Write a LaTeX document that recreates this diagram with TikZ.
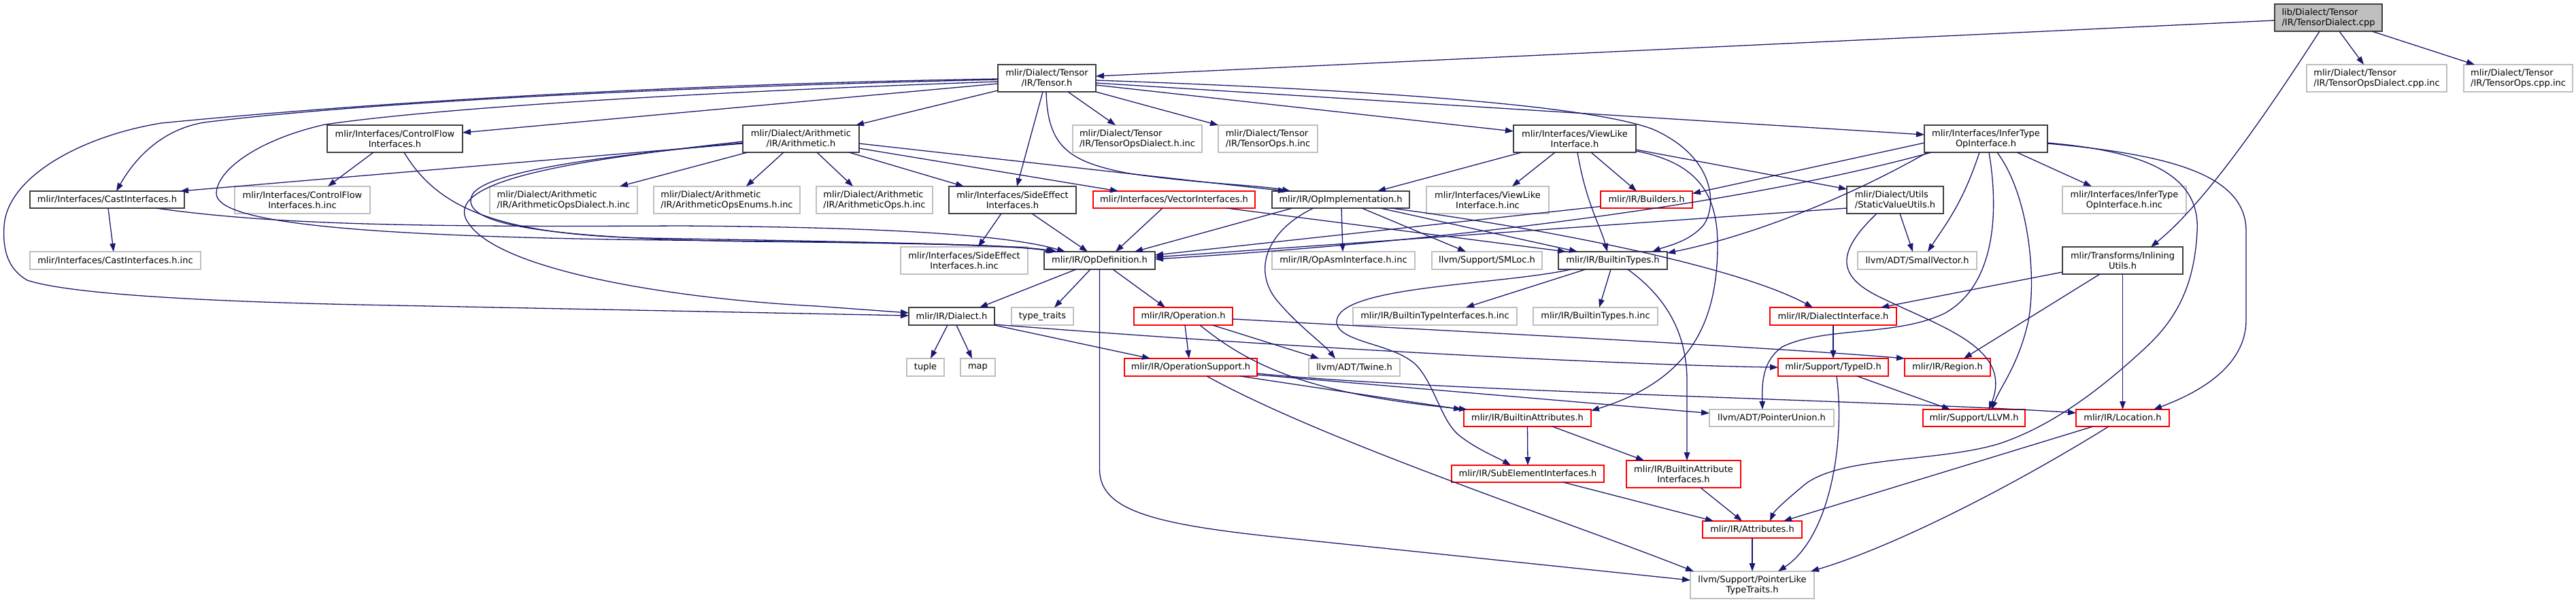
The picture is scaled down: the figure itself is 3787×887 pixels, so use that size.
\documentclass[tikz,border=0pt]{standalone}
\usepackage{fontspec}
\setmainfont{DejaVu Sans}
\usetikzlibrary{arrows.meta}
\definecolor{edgec}{HTML}{191970}
\definecolor{gborder}{HTML}{BFBFBF}
\definecolor{rootfill}{HTML}{BFBFBF}
\definecolor{nborder}{HTML}{404040}
\definecolor{rborder}{HTML}{FF0000}
\newcommand\nd[7]{%
  \node[#6,minimum width={(#4)-(#2)},minimum height={(#5)-(#3)}] (#1) at ({((#2)+(#4))/2},{((#3)+(#5))/2}) {#7};}
\begin{document}
\begin{tikzpicture}[x=1pt,y=-1pt,
  base/.style={draw,line width=1.6pt,inner sep=0pt,outer sep=0pt,align=center,fill=white,text=black,font=\fontsize{13}{15}\selectfont},
  blk/.style={base,draw=nborder},
  gry/.style={base,draw=gborder},
  redn/.style={base,draw=rborder},
  rootn/.style={base,draw=nborder,fill=rootfill},
  edg/.style={draw=edgec,line width=1.3pt,-{Triangle[length=12pt,width=8.5pt]}}]
\path[use as bounding box] (0,0) rectangle (3787,887);
% ---------- nodes ----------
\nd{root}{3344}{6}{3502}{46}{rootn,align=left}{lib/Dialect/Tensor\\/IR/TensorDialect.cpp}
\nd{tdcppinc}{3391}{95}{3597}{135}{gry,align=left}{mlir/Dialect/Tensor\\/IR/TensorOpsDialect.cpp.inc}
\nd{tocppinc}{3622}{95}{3782}{135}{gry,align=left}{mlir/Dialect/Tensor\\/IR/TensorOps.cpp.inc}
\nd{tensor}{1467}{95}{1611}{135}{blk}{mlir/Dialect/Tensor\\/IR/Tensor.h}
\nd{cf}{481}{184}{680}{224}{blk}{mlir/Interfaces/ControlFlow\\Interfaces.h}
\nd{arith}{1092}{184}{1263}{224}{blk}{mlir/Dialect/Arithmetic\\/IR/Arithmetic.h}
\nd{todinc}{1577}{184}{1767}{224}{gry,align=left}{mlir/Dialect/Tensor\\/IR/TensorOpsDialect.h.inc}
\nd{tohinc}{1791}{184}{1937}{224}{gry,align=left}{mlir/Dialect/Tensor\\/IR/TensorOps.h.inc}
\nd{viewlike}{2225}{184}{2405}{224}{blk}{mlir/Interfaces/ViewLike\\Interface.h}
\nd{infer}{2829}{184}{3010}{224}{blk}{mlir/Interfaces/InferType\\OpInterface.h}
\nd{cast}{44}{281}{271}{306}{blk}{mlir/Interfaces/CastInterfaces.h}
\nd{cfinc}{345}{274}{544}{314}{gry}{mlir/Interfaces/ControlFlow\\Interfaces.h.inc}
\nd{aodinc}{720}{274}{937}{314}{gry,align=left}{mlir/Dialect/Arithmetic\\/IR/ArithmeticOpsDialect.h.inc}
\nd{aoeinc}{961}{274}{1176}{314}{gry,align=left}{mlir/Dialect/Arithmetic\\/IR/ArithmeticOpsEnums.h.inc}
\nd{aoinc}{1200}{274}{1371}{314}{gry,align=left}{mlir/Dialect/Arithmetic\\/IR/ArithmeticOps.h.inc}
\nd{side}{1395}{274}{1582}{314}{blk}{mlir/Interfaces/SideEffect\\Interfaces.h}
\nd{vector}{1607}{281}{1845}{306}{redn}{mlir/Interfaces/VectorInterfaces.h}
\nd{opimpl}{1870}{281}{2072}{306}{blk}{mlir/IR/OpImplementation.h}
\nd{viewinc}{2097}{274}{2277}{314}{gry}{mlir/Interfaces/ViewLike\\Interface.h.inc}
\nd{builders}{2353}{281}{2488}{306}{redn}{mlir/IR/Builders.h}
\nd{static}{2715}{274}{2857}{314}{blk,align=left}{mlir/Dialect/Utils\\/StaticValueUtils.h}
\nd{inferinc}{3032}{274}{3214}{314}{gry}{mlir/Interfaces/InferType\\OpInterface.h.inc}
\nd{castinc}{44}{370}{295}{396}{gry}{mlir/Interfaces/CastInterfaces.h.inc}
\nd{sideinc}{1324}{363}{1511}{403}{gry}{mlir/Interfaces/SideEffect\\Interfaces.h.inc}
\nd{opdef}{1535}{370}{1698}{396}{blk}{mlir/IR/OpDefinition.h}
\nd{asminc}{1870}{370}{2080}{396}{gry}{mlir/IR/OpAsmInterface.h.inc}
\nd{smloc}{2105}{370}{2267}{396}{gry}{llvm/Support/SMLoc.h}
\nd{btypes}{2291}{370}{2451}{396}{blk}{mlir/IR/BuiltinTypes.h}
\nd{smallvec}{2731}{370}{2906}{396}{gry}{llvm/ADT/SmallVector.h}
\nd{inlining}{3032}{363}{3209}{403}{blk}{mlir/Transforms/Inlining\\Utils.h}
\nd{dialect}{1336}{452}{1462}{478}{blk}{mlir/IR/Dialect.h}
\nd{typetraits}{1487}{452}{1578}{478}{gry}{type\_traits}
\nd{operation}{1667}{452}{1812}{478}{redn}{mlir/IR/Operation.h}
\nd{btiinc}{1989}{452}{2230}{478}{gry}{mlir/IR/BuiltinTypeInterfaces.h.inc}
\nd{btinc}{2254}{452}{2437}{478}{gry}{mlir/IR/BuiltinTypes.h.inc}
\nd{dialectif}{2602}{452}{2788}{478}{redn}{mlir/IR/DialectInterface.h}
\nd{tuple}{1333}{527}{1388}{553}{gry}{tuple}
\nd{map}{1412}{527}{1463}{553}{gry}{map}
\nd{opsupport}{1653}{527}{1848}{553}{redn}{mlir/IR/OperationSupport.h}
\nd{twine}{1924}{527}{2058}{553}{gry}{llvm/ADT/Twine.h}
\nd{typeid}{2614}{527}{2776}{553}{redn}{mlir/Support/TypeID.h}
\nd{region}{2800}{527}{2926}{553}{redn}{mlir/IR/Region.h}
\nd{battrs}{2152}{602}{2339}{627}{redn}{mlir/IR/BuiltinAttributes.h}
\nd{punion}{2513}{602}{2696}{627}{gry}{llvm/ADT/PointerUnion.h}
\nd{llvmh}{2827}{602}{2977}{627}{redn}{mlir/Support/LLVM.h}
\nd{location}{3052}{602}{3189}{627}{redn}{mlir/IR/Location.h}
\nd{subelem}{2134}{684}{2358}{709}{redn}{mlir/IR/SubElementInterfaces.h}
\nd{baif}{2391}{677}{2559}{717}{redn}{mlir/IR/BuiltinAttribute\\Interfaces.h}
\nd{attrs}{2503}{766}{2649}{791}{redn}{mlir/IR/Attributes.h}
\nd{plike}{2485}{840}{2667}{880}{gry}{llvm/Support/PointerLike\\TypeTraits.h}
% ---------- edges ----------
% root
\draw[edg] ([yshift=-4]root.west) -- ([yshift=3]tensor.east);
\draw[edg] ([xshift=16]root.south) -- ([xshift=-19]tdcppinc.north);
\draw[edg] ([xshift=64]root.south) -- ([xshift=-64]tocppinc.north);
\draw[edg] ([xshift=-13]root.south) .. controls (3330,170) and (3240,300) .. ([xshift=41.5]inlining.north);
% Tensor.h
\draw[edg] ([yshift=-8]tensor.west) -- ([yshift=9]cf.east);
\draw[edg] ([yshift=-18]tensor.west) -- ([xshift=-5]arith.north east);
\draw[edg] ([yshift=-2]tensor.west) .. controls (900,130) and (500,155) .. (300,180) .. controls (240,190) and (200,230) .. ([xshift=13.5]cast.north);
\draw[edg] ([yshift=-1]tensor.west) .. controls (900,125) and (450,160) .. (237,181) .. controls (120,200) and (10,260) .. (6,333) .. controls (3,380) and (20,400) .. (40,412) .. controls (110,435) and (350,445) .. (580,449) -- ([yshift=1]dialect.west);
\draw[edg] ([yshift=-5]tensor.west) .. controls (900,140) and (600,165) .. (478,183) .. controls (380,205) and (318,250) .. (318,285) .. controls (320,325) and (500,345) .. (900,352) .. controls (1300,357) and (1480,358) .. ([xshift=19]opdef.north west);
\draw[edg] ([xshift=-6]tensor.south) -- ([xshift=6.5]side.north);
\draw[edg] ([xshift=-1]tensor.south) .. controls (1540,215) and (1570,238) .. (1660,255) .. controls (1760,270) and (1850,272) .. ([xshift=-74]opimpl.north);
\draw[edg] ([xshift=31]tensor.south) -- ([xshift=-32]todinc.north);
\draw[edg] (tensor.south east) -- (tohinc.north west);
\draw[edg] ([yshift=-10]tensor.east) -- ([yshift=11]viewlike.west);
\draw[edg] ([yshift=-7]tensor.east) -- ([yshift=6]infer.west);
\draw[edg] ([yshift=-3]tensor.east) .. controls (2100,135) and (2350,160) .. (2430,190) .. controls (2520,230) and (2525,300) .. (2505,330) .. controls (2485,355) and (2450,362) .. ([xshift=58]btypes.north);
% Arithmetic.h
\draw[edg] ([yshift=-7]arith.west) -- ([xshift=-6]cast.north east);
\draw[edg] ([xshift=-78.5]arith.south) -- ([xshift=82.5]aodinc.north);
\draw[edg] ([xshift=-25.5]arith.south) -- ([xshift=28.5]aoeinc.north);
\draw[edg] ([xshift=23.5]arith.south) -- ([xshift=-31.5]aoinc.north);
\draw[edg] ([xshift=70.5]arith.south) -- ([xshift=-71.5]side.north);
\draw[edg] ([yshift=-14]arith.east) -- ([xshift=-82]vector.north);
\draw[edg] ([yshift=-7]arith.east) -- ([xshift=-80]opimpl.north);
\draw[edg] ([yshift=-6]arith.west) .. controls (900,228) and (720,250) .. (695,285) .. controls (670,330) and (800,350) .. (1100,355) .. controls (1400,358) and (1500,362) .. ([xshift=15]opdef.north west);
\draw[edg] ([yshift=-4]arith.west) .. controls (850,235) and (640,265) .. (690,330) .. controls (740,400) and (1000,440) .. (1200,450) -- ([yshift=5]dialect.west);
% ControlFlow / Cast
\draw[edg] ([xshift=-31.5]cf.south) -- ([xshift=37.5]cfinc.north);
\draw[edg] ([xshift=13.5]cf.south) .. controls (640,300) and (720,345) .. (950,350) .. controls (1300,356) and (1490,360) .. ([xshift=17]opdef.north west);
\draw[edg] ([xshift=1.5]cast.south) -- ([xshift=-2.5]castinc.north);
\draw[edg] ([xshift=71.5]cast.south) .. controls (400,330) and (600,334) .. (1000,332) .. controls (1300,334) and (1480,345) .. ([xshift=31]opdef.north west);
% SideEffect / Vector
\draw[edg] ([xshift=-16.5]side.south) -- ([xshift=20.5]sideinc.north);
\draw[edg] ([xshift=28.5]side.south) -- ([xshift=-17.5]opdef.north);
\draw[edg] ([xshift=-17]vector.south) -- ([xshift=23.5]opdef.north);
\draw[edg] ([xshift=77]vector.south) -- ([xshift=-69]btypes.north);
% OpImplementation
\draw[edg] ([xshift=-71]opimpl.south) -- ([xshift=51.5]opdef.north);
\draw[edg] ([xshift=1]opimpl.south) -- ([xshift=-1]asminc.north);
\draw[edg] ([xshift=31]opimpl.south) -- ([xshift=-31]smloc.north);
\draw[edg] ([xshift=58]opimpl.south) -- ([xshift=-52]btypes.north);
\draw[edg] ([xshift=74]opimpl.south) .. controls (2300,340) and (2560,395) .. ([xshift=-30]dialectif.north);
\draw[edg] ([xshift=-40]opimpl.south) .. controls (1860,340) and (1840,400) .. (1880,445) .. controls (1910,480) and (1945,505) .. ([xshift=-28]twine.north);
% ViewLike
\draw[edg] ([xshift=-78]viewlike.south) -- ([xshift=54]opimpl.north);
\draw[edg] ([xshift=-29]viewlike.south) -- ([xshift=36]viewinc.north);
\draw[edg] ([xshift=4]viewlike.south) .. controls (2332,300) and (2352,330) .. ([xshift=-8]btypes.north);
\draw[edg] ([xshift=24]viewlike.south) -- ([xshift=-14.5]builders.north);
\draw[edg] ([yshift=-16]viewlike.east) -- ([yshift=-4]static.north west);
\draw[edg] ([yshift=-18]viewlike.east) .. controls (2500,240) and (2525,290) .. (2525,360) .. controls (2525,480) and (2480,560) .. ([yshift=-2]battrs.north east);
% Builders / StaticValueUtils
\draw[edg] ([yshift=-10]builders.west) -- ([yshift=8]opdef.east);
\draw[edg] ([yshift=-12]static.west) -- ([yshift=5]opdef.east);
\draw[edg] ([xshift=7]static.south) -- ([xshift=-6.5]smallvec.north);
\draw[edg] ([xshift=-27]static.south) .. controls (2700,370) and (2700,405) .. (2760,435) .. controls (2850,480) and (2960,510) .. ([xshift=22]llvmh.north);
% InferTypeOpInterface
\draw[edg] ([xshift=45.5]infer.south) -- ([xshift=-48]inferinc.north);
\draw[edg] ([xshift=-9.5]infer.south) .. controls (2885,300) and (2860,330) .. ([xshift=15.5]smallvec.north);
\draw[edg] ([yshift=-6]infer.west) -- ([yshift=9]builders.east);
\draw[edg] ([xshift=-80]infer.south) .. controls (2600,290) and (2200,350) .. ([yshift=2]opdef.east);
\draw[edg] ([xshift=-86]infer.south) .. controls (2700,300) and (2560,350) .. ([yshift=11]btypes.east);
\draw[edg] ([xshift=4.5]infer.south) .. controls (2940,320) and (2930,420) .. (2860,460) .. controls (2790,495) and (2680,480) .. (2620,510) .. controls (2592,530) and (2590,560) .. ([xshift=-13.5]punion.north);
\draw[edg] ([xshift=16.5]infer.south) .. controls (2985,290) and (2995,420) .. (2980,480) .. controls (2965,540) and (2940,570) .. ([xshift=26]llvmh.north);
\draw[edg] ([yshift=-6]infer.east) .. controls (3150,222) and (3235,255) .. (3230,340) .. controls (3226,420) and (3200,470) .. (3150,515) .. controls (3090,570) and (3020,625) .. (2940,652) .. controls (2850,680) and (2700,670) .. (2650,715) .. controls (2620,740) and (2608,752) .. ([xshift=26]attrs.north);
\draw[edg] ([yshift=-7]infer.east) .. controls (3200,228) and (3302,260) .. (3302,340) -- (3302,470) .. controls (3302,540) and (3230,578) .. ([xshift=45.5]location.north);
% InliningUtils
\draw[edg] ([yshift=-17]inlining.west) -- ([xshift=70]dialectif.north);
\draw[edg] ([xshift=-33.5]inlining.south) -- ([xshift=24]region.north);
\draw[edg] (inlining.south) -- (location.north);
% Dialect.h
\draw[edg] ([xshift=-6]dialect.south) -- ([xshift=7.5]tuple.north);
\draw[edg] ([xshift=7]dialect.south) -- ([xshift=-8.5]map.north);
\draw[edg] (dialect.south east) -- ([xshift=-59.5]opsupport.north);
\draw[edg] ([yshift=-12]dialect.east) .. controls (1900,512) and (2400,537) .. (typeid.west);
% OpDefinition.h
\draw[edg] ([xshift=-34.5]opdef.south) -- ([xshift=41]dialect.north);
\draw[edg] ([xshift=-13.5]opdef.south) -- ([xshift=17.5]typetraits.north);
\draw[edg] ([xshift=19.5]opdef.south) -- ([xshift=-26.5]operation.north);
\draw[edg] (opdef.south) -- (1616.5,690) .. controls (1616.5,752) and (1700,772) .. (1900,792) -- ([yshift=7]plike.west);
% Operation.h
\draw[edg] ([xshift=2.5]operation.south) -- ([xshift=-2.5]opsupport.north);
\draw[edg] ([yshift=-4]operation.east) .. controls (2100,485) and (2600,510) .. (region.north west);
\draw[edg] ([xshift=43]operation.south) -- ([xshift=-52]twine.north);
\draw[edg] ([xshift=24.5]operation.south) .. controls (1840,540) and (1930,580) .. ([xshift=5]battrs.north west);
% OperationSupport.h
\draw[edg] ([xshift=-25]opsupport.south east) -- ([xshift=-3]battrs.north west);
\draw[edg] ([yshift=2]opsupport.south east) -- ([yshift=7]punion.west);
\draw[edg] ([yshift=4]opsupport.south east) .. controls (2100,575) and (2800,590) .. ([yshift=7.5]location.west);
\draw[edg] ([xshift=23.5]opsupport.south) .. controls (1950,650) and (2300,765) .. ([xshift=5]plike.north west);
% BuiltinTypes.h
\draw[edg] ([xshift=-40]btypes.south) -- ([xshift=45.5]btiinc.north);
\draw[edg] ([xshift=-3]btypes.south) -- ([xshift=5.5]btinc.north);
\draw[edg] ([xshift=22]btypes.south) .. controls (2440,430) and (2480,480) .. (2480,560) -- ([xshift=5]baif.north);
\draw[edg] ([xshift=-61]btypes.south) .. controls (2200,420) and (1960,420) .. (1965,475) .. controls (1970,505) and (2055,505) .. (2085,540) .. controls (2110,570) and (2120,620) .. (2145,640) .. controls (2170,660) and (2200,672) .. ([xshift=-25]subelem.north);
% Attributes and below
\draw[edg] (battrs.south) -- (subelem.north);
\draw[edg] ([xshift=36.5]battrs.south) -- ([xshift=-58]baif.north);
\draw[edg] ([xshift=52]subelem.south) -- ([xshift=-57]attrs.north);
\draw[edg] ([xshift=25]baif.south) -- ([xshift=-15]attrs.north);
\draw[edg] (attrs.south) -- (plike.north);
\draw[edg] (dialectif.south) -- (typeid.north);
\draw[edg] ([xshift=35]typeid.south) -- ([xshift=-35]llvmh.north);
\draw[edg] ([xshift=5]typeid.south) .. controls (2713,650) and (2690,790) .. ([xshift=38]plike.north);
\draw[edg] ([xshift=-43.5]location.south) -- ([xshift=46]attrs.north);
\draw[edg] ([xshift=-20.5]location.south) .. controls (2950,720) and (2780,805) .. ([xshift=-5]plike.north east);
\end{tikzpicture}
\end{document}
